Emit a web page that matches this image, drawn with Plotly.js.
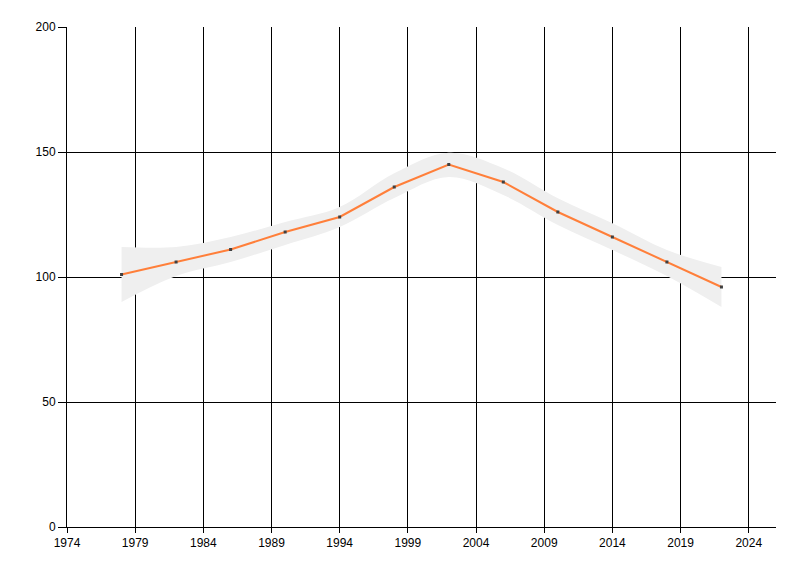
<!DOCTYPE html>
<html>
<head>
<meta charset="utf-8">
<script src="https://cdn.plot.ly/plotly-3.0.1.min.js"></script>
<style>html,body{margin:0;padding:0;background:#fff;}#chart{width:800px;height:576px;}</style>
</head>
<body>
<div id="chart"></div>
<script>
const years = [1978, 1982, 1986, 1990, 1994, 1998, 2002, 2006, 2010, 2014, 2018, 2022];
const values = [101, 106, 111, 118, 124, 136, 145, 138, 126, 116, 106, 96];
const upper = [112, 112, 116, 122, 128, 141.5, 149.7, 143.5, 131.5, 121.5, 110.8, 104];
const lower = [90, 100.4, 106, 112.8, 120, 131.6, 140, 132.8, 120.8, 110.8, 100.4, 88];
const xTickVals = [1974, 1979, 1984, 1989, 1994, 1999, 2004, 2009, 2014, 2019, 2024];
const xTickText = ["1974", "1979", "1984", "1989", "1994", "1999", "2004", "2009", "2014", "2019", "2024"];
const yTickVals = [0, 50, 100, 150, 200];
const yTickText = ["0", "50", "100", "150", "200"];

const traces = [
  {x: years, y: upper, mode: 'lines', line: {width: 0, shape: 'spline', color: 'rgba(0,0,0,0)'}, hoverinfo: 'skip', showlegend: false},
  {x: years, y: lower, mode: 'lines', line: {width: 0, shape: 'spline', color: 'rgba(0,0,0,0)'}, fill: 'tonexty', fillcolor: '#efefef', hoverinfo: 'skip', showlegend: false},
  {x: years, y: values, mode: 'lines+markers', line: {color: '#ff7f3a', width: 2}, marker: {color: '#404040', size: 3, symbol: 'square'}, showlegend: false}
];

const layout = {
  width: 800, height: 576,
  margin: {l: 66.5, r: 24, t: 27, b: 49},
  paper_bgcolor: '#fff', plot_bgcolor: '#fff',
  font: {family: 'Liberation Sans, Arial, sans-serif', size: 12, color: '#000'},
  xaxis: {
    range: [1974, 2026], tickvals: xTickVals, ticktext: xTickText,
    showgrid: true, gridcolor: '#000', gridwidth: 1,
    showline: true, linecolor: '#000', linewidth: 1,
    ticks: 'outside', ticklen: 5, tickcolor: '#000', zeroline: false,
    tickfont: {size: 12, color: '#000'}
  },
  yaxis: {
    range: [0, 200], tickvals: yTickVals, ticktext: yTickText,
    showgrid: true, gridcolor: '#000', gridwidth: 1,
    showline: true, linecolor: '#000', linewidth: 1,
    ticks: 'outside', ticklen: 8, tickcolor: '#000', zeroline: false,
    tickfont: {size: 12, color: '#000'}
  }
};

Plotly.newPlot('chart', traces, layout, {staticPlot: true, displayModeBar: false});
</script>
</body>
</html>
